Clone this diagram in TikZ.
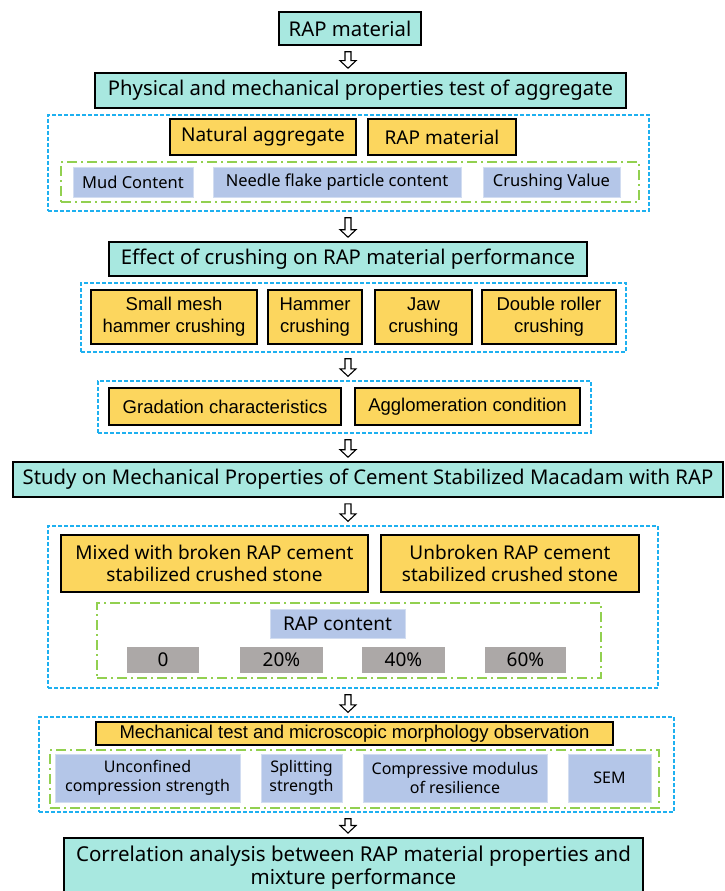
\documentclass[tikz,border=0pt]{standalone}
\usepackage{fontspec}
\setmainfont{Noto Sans}
\newfontfamily\arialfont{Liberation Sans}
\usetikzlibrary{calc}

\definecolor{tealfill}{RGB}{168,232,224}
\definecolor{goldfill}{RGB}{252,214,94}
\definecolor{lavfill}{RGB}{180,198,232}
\definecolor{greyfill}{RGB}{172,168,167}
\definecolor{groupblue}{RGB}{30,176,240}
\definecolor{groupgreen}{RGB}{146,208,80}

% hollow down arrow from the bottom of #1 to the top of #2
\newcommand{\flowarrow}[2]{%
  \draw[hollow] let \p1=(#1.south), \p2=(#2.north) in
    (345pt,\y1-6pt) -- (345pt,\y2+11.5pt) -- (340pt,\y2+11.5pt) -- (348pt,\y2+4pt)
    -- (356pt,\y2+11.5pt) -- (351pt,\y2+11.5pt) -- (351pt,\y1-6pt) -- cycle;}

\begin{document}
\begin{tikzpicture}[x=1pt,y=-1pt,
	box/.style={inner sep=0pt, align=center},
	tealbox/.style={box, fill=tealfill, draw=black, line width=1.6pt, font=\fontsize{20.3}{23}\selectfont},
	goldbox/.style={box, fill=goldfill, draw=black, line width=1.6pt, font=\fontsize{19}{22}\selectfont},
	crushbox/.style={goldbox, font=\arialfont\fontsize{18.5}{21.7}\selectfont},
	lavbox/.style={box, fill=lavfill, draw=lavfill!60!white, line width=0.6pt, font=\fontsize{16.5}{19.3}\selectfont},
	greybox/.style={box, fill=greyfill, font=\fontsize{19}{22}\selectfont},
	bluegroup/.style={inner sep=0pt, draw=groupblue, line width=1.4pt, dash pattern=on 4pt off 2pt},
	greengroup/.style={inner sep=0pt, draw=groupgreen, line width=1.4pt, dash pattern=on 10pt off 4pt on 2pt off 4pt},
	hollow/.style={draw=black, fill=white, line width=1.1pt, line join=miter}]
	\useasboundingbox (0,0) rectangle (724,891);
	% group frames
	\node[bluegroup, minimum width=601pt, minimum height=96pt] (grpA) at (348.5,163) {};
	\node[greengroup, minimum width=578pt, minimum height=40pt] (lineA) at (350,182) {};
	\node[bluegroup, minimum width=545pt, minimum height=69pt] (grpB) at (353.5,317.5) {};
	\node[bluegroup, minimum width=493pt, minimum height=52pt] (grpC) at (344.5,407) {};
	\node[bluegroup, minimum width=610pt, minimum height=162pt] (grpD) at (353,607) {};
	\node[greengroup, minimum width=504pt, minimum height=75pt] (lineD) at (349,640.5) {};
	\node[bluegroup, minimum width=635pt, minimum height=95pt] (grpE) at (356.5,764.5) {};
	\node[greengroup, minimum width=609pt, minimum height=58pt] (lineE) at (354.5,779) {};
	% main steps
	\node[tealbox, minimum width=142pt, minimum height=33pt] (rap) at (350,28.5) {RAP material};
	\node[tealbox, minimum width=531pt, minimum height=35pt] (phys) at (360.5,90.5) {Physical and mechanical properties test of aggregate};
	\node[tealbox, minimum width=478pt, minimum height=34pt] (effect) at (348,259) {Effect of crushing on RAP material performance};
	\node[tealbox, minimum width=710pt, minimum height=35pt] (study) at (368,479.5) {Study on Mechanical Properties of Cement Stabilized Macadam with RAP};
	\node[tealbox, anchor=north, minimum width=579pt, minimum height=60pt, font=\fontsize{20.5}{23}\selectfont] (corr) at (353.5,837) {Correlation analysis between RAP material properties and\\mixture performance};
	% aggregate tests
	\node[goldbox, minimum width=186pt, minimum height=36pt] (natural) at (263,137) {Natural aggregate};
	\node[goldbox, minimum width=148pt, minimum height=36pt] (rapmat) at (442,137) {RAP material};
	\node[lavbox, minimum width=120pt, minimum height=30pt] (mud) at (133,182) {Mud Content};
	\node[lavbox, minimum width=248pt, minimum height=30pt] (needle) at (337,182) {Needle flake particle content};
	\node[lavbox, minimum width=137pt, minimum height=30pt] (crushval) at (551.5,182) {Crushing Value};
	% crushing methods
	\node[crushbox, minimum width=166pt, minimum height=54pt] (smallmesh) at (174,317) {Small mesh\\hammer crushing};
	\node[crushbox, minimum width=94pt, minimum height=54pt] (hammer) at (315,317) {Hammer\\crushing};
	\node[crushbox, minimum width=97pt, minimum height=54pt] (jaw) at (423.5,317) {Jaw\\crushing};
	\node[crushbox, minimum width=134pt, minimum height=54pt] (roller) at (549,317) {Double roller\\crushing};
	\node[crushbox, minimum width=232pt, minimum height=37pt] (gradation) at (225,406.5) {Gradation characteristics};
	\node[crushbox, minimum width=225pt, minimum height=37pt] (agglom) at (467.5,406.5) {Agglomeration condition};
	% mixtures
	\node[goldbox, minimum width=307pt, minimum height=57pt] (mixed) at (214.5,563.5) {Mixed with broken RAP cement\\stabilized crushed stone};
	\node[goldbox, minimum width=258pt, minimum height=57pt] (unbroken) at (510,563.5) {Unbroken RAP cement\\stabilized crushed stone};
	\node[lavbox, minimum width=135pt, minimum height=29pt, font=\fontsize{19}{22}\selectfont] (content) at (337.5,623.5) {RAP content};
	\node[greybox, minimum width=72pt, minimum height=26pt] (pct0) at (163,660) {0};
	\node[greybox, minimum width=83pt, minimum height=26pt] (pct20) at (281.5,660) {20\%};
	\node[greybox, minimum width=83pt, minimum height=26pt] (pct40) at (403.5,660) {40\%};
	\node[greybox, minimum width=81pt, minimum height=26pt] (pct60) at (525.5,660) {60\%};
	% tests
	\node[crushbox, minimum width=517pt, minimum height=23pt] (mech) at (354.5,733.5) {Mechanical test and microscopic morphology observation};
	\node[lavbox, minimum width=185pt, minimum height=48pt, font=\fontsize{16}{19.3}\selectfont] (ucs) at (147.5,778) {Unconfined\\compression strength};
	\node[lavbox, minimum width=81pt, minimum height=48pt, font=\fontsize{16}{19.3}\selectfont] (split) at (301.5,778) {Splitting\\strength};
	\node[lavbox, minimum width=184pt, minimum height=48pt, font=\fontsize{16}{19.3}\selectfont] (modulus) at (455,778) {Compressive modulus\\of resilience};
	\node[lavbox, minimum width=83pt, minimum height=48pt, font=\fontsize{16}{19.3}\selectfont] (sem) at (609.5,778) {SEM};
	% arrows
	\flowarrow{rap}{phys}
	\flowarrow{grpA}{effect}
	\flowarrow{grpB}{grpC}
	\flowarrow{grpC}{study}
	\flowarrow{study}{grpD}
	\flowarrow{grpD}{grpE}
	\flowarrow{grpE}{corr}
\end{tikzpicture}
\end{document}
